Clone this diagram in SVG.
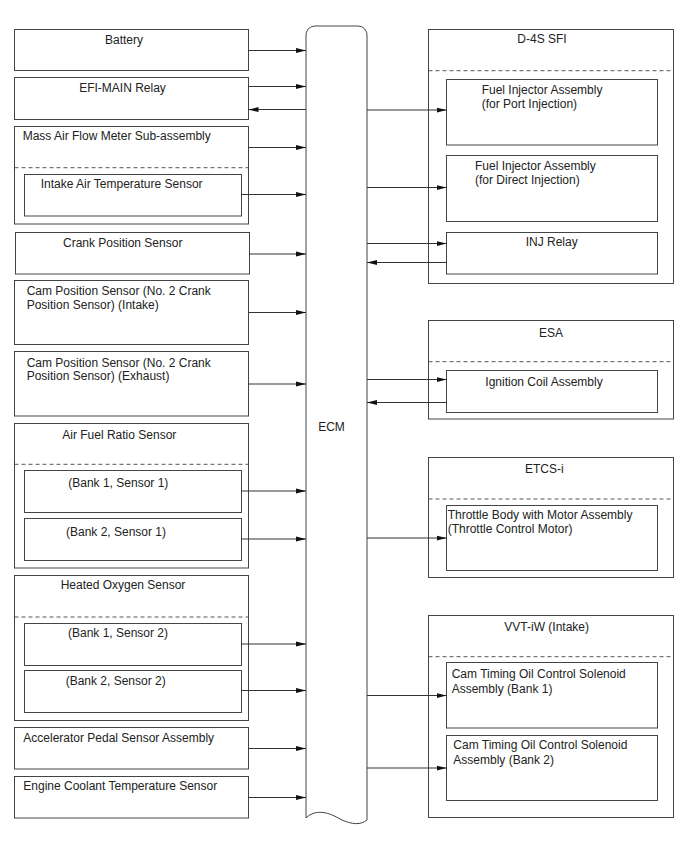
<svg xmlns="http://www.w3.org/2000/svg" width="688" height="852" viewBox="0 0 688 852">
<style>
.b{fill:#fff;stroke:#444;stroke-width:1}
.d{fill:none;stroke:#555;stroke-width:1;stroke-dasharray:4,3}
.t{font-family:"Liberation Sans",Arial,sans-serif;font-size:12px;fill:#222}
.m{text-anchor:middle}
.c{fill:none;stroke:#333;stroke-width:1;marker-end:url(#ah)}
</style>
<defs>
<marker id="ah" markerUnits="userSpaceOnUse" markerWidth="10" markerHeight="6" refX="10" refY="3" orient="auto">
<path d="M0,0.5 L10,3 L0,5.5 Z" fill="#111"/>
</marker>
</defs>
<rect width="688" height="852" fill="#fff"/>

<g id="ecm">
<path class="b" d="M306,36 A9,9 0 0 1 315,26 L358,26 A9,9 0 0 1 367,36 L367,820 C361,825 352,825 340,819 C330,813 316,808 306,818 Z"/>
<text class="t m" x="331.5" y="430.5">ECM</text>
</g>

<g id="battery">
<rect class="b" x="14.5" y="29.5" width="234" height="41"/>
<text class="t m" x="124" y="44.3">Battery</text>
</g>
<g id="efi-main">
<rect class="b" x="14.5" y="77.5" width="234" height="42"/>
<text class="t m" x="122.5" y="92">EFI-MAIN Relay</text>
</g>
<g id="maf">
<rect class="b" x="14.5" y="126.5" width="234" height="97.5"/>
<text class="t" x="22.7" y="140.3">Mass Air Flow Meter Sub-assembly</text>
<line class="d" x1="14.5" y1="167.7" x2="248.5" y2="167.7"/>
</g>
<g id="iat">
<rect class="b" x="24.5" y="174.5" width="217" height="41.5"/>
<text class="t" x="40.7" y="187.7">Intake Air Temperature Sensor</text>
</g>
<g id="crank">
<rect class="b" x="15.5" y="232.5" width="234" height="41.5"/>
<text class="t m" x="122.7" y="247.3">Crank Position Sensor</text>
</g>
<g id="cam-intake">
<rect class="b" x="14.5" y="280.5" width="234" height="64"/>
<text class="t" x="26.7" y="295">Cam Position Sensor (No. 2 Crank</text>
<text class="t" x="26.7" y="308.5">Position Sensor) (Intake)</text>
</g>
<g id="cam-exhaust">
<rect class="b" x="14.5" y="351.5" width="234" height="64.5"/>
<text class="t" x="26.7" y="366.7">Cam Position Sensor (No. 2 Crank</text>
<text class="t" x="26.7" y="380.2">Position Sensor) (Exhaust)</text>
</g>
<g id="afr">
<rect class="b" x="14.5" y="423.5" width="234" height="144.5"/>
<text class="t m" x="119.3" y="438.7">Air Fuel Ratio Sensor</text>
<line class="d" x1="14.5" y1="464.3" x2="248.5" y2="464.3"/>
</g>
<g id="afr-b1s1">
<rect class="b" x="24.5" y="470.5" width="217" height="42"/>
<text class="t m" x="118.3" y="486.7">(Bank 1, Sensor 1)</text>
</g>
<g id="afr-b2s1">
<rect class="b" x="24.5" y="518.5" width="217" height="42"/>
<text class="t m" x="116" y="535.7">(Bank 2, Sensor 1)</text>
</g>
<g id="ho2">
<rect class="b" x="14.5" y="575.5" width="234" height="145"/>
<text class="t m" x="123" y="589.3">Heated Oxygen Sensor</text>
<line class="d" x1="14.5" y1="617" x2="248.5" y2="617"/>
</g>
<g id="ho2-b1s2">
<rect class="b" x="24.5" y="623.5" width="217" height="42"/>
<text class="t m" x="118" y="637.3">(Bank 1, Sensor 2)</text>
</g>
<g id="ho2-b2s2">
<rect class="b" x="24.5" y="670.5" width="217" height="42"/>
<text class="t m" x="115.7" y="685">(Bank 2, Sensor 2)</text>
</g>
<g id="accel">
<rect class="b" x="14.5" y="727.5" width="234" height="41.5"/>
<text class="t" x="23.3" y="741.7">Accelerator Pedal Sensor Assembly</text>
</g>
<g id="ect">
<rect class="b" x="14.5" y="776.5" width="234" height="41.5"/>
<text class="t" x="23.3" y="790">Engine Coolant Temperature Sensor</text>
</g>

<g id="d4s">
<rect class="b" x="428.5" y="29.5" width="245" height="254"/>
<text class="t m" x="542" y="43">D-4S SFI</text>
<line class="d" x1="428.5" y1="70.7" x2="673.5" y2="70.7"/>
</g>
<g id="inj-port">
<rect class="b" x="446.5" y="79.5" width="211" height="65.5"/>
<text class="t" x="481.7" y="94">Fuel Injector Assembly</text>
<text class="t" x="481.7" y="107.5">(for Port Injection)</text>
</g>
<g id="inj-direct">
<rect class="b" x="446.5" y="155.5" width="211" height="66"/>
<text class="t" x="475" y="170">Fuel Injector Assembly</text>
<text class="t" x="475" y="183.5">(for Direct Injection)</text>
</g>
<g id="inj-relay">
<rect class="b" x="446.5" y="232.5" width="211" height="41.5"/>
<text class="t m" x="551.7" y="245.7">INJ Relay</text>
</g>
<g id="esa">
<rect class="b" x="428.5" y="320.5" width="245" height="98.5"/>
<text class="t m" x="551" y="336.7">ESA</text>
<line class="d" x1="428.5" y1="361.7" x2="673.5" y2="361.7"/>
</g>
<g id="ignition">
<rect class="b" x="446.5" y="370.5" width="211" height="42"/>
<text class="t m" x="544" y="385.7">Ignition Coil Assembly</text>
</g>
<g id="etcs">
<rect class="b" x="428.5" y="457.5" width="245" height="120"/>
<text class="t m" x="544.3" y="472.7">ETCS-i</text>
<line class="d" x1="428.5" y1="499" x2="673.5" y2="499"/>
</g>
<g id="throttle">
<rect class="b" x="446.5" y="505.5" width="211" height="65"/>
<text class="t" x="447.7" y="519">Throttle Body with Motor Assembly</text>
<text class="t" x="447.7" y="533.3">(Throttle Control Motor)</text>
</g>
<g id="vvt">
<rect class="b" x="428.5" y="615.5" width="245" height="202"/>
<text class="t m" x="546.7" y="630.7">VVT-iW (Intake)</text>
<line class="d" x1="428.5" y1="656.7" x2="673.5" y2="656.7"/>
</g>
<g id="ocv1">
<rect class="b" x="446.5" y="662.5" width="211" height="65.5"/>
<text class="t" x="451.7" y="678.3">Cam Timing Oil Control Solenoid</text>
<text class="t" x="451.7" y="693.3">Assembly (Bank 1)</text>
</g>
<g id="ocv2">
<rect class="b" x="446.5" y="735.5" width="211" height="65"/>
<text class="t" x="453.3" y="749.3">Cam Timing Oil Control Solenoid</text>
<text class="t" x="453.3" y="764.3">Assembly (Bank 2)</text>
</g>

<g id="connectors">
<line class="c" x1="248.5" y1="50.5" x2="306" y2="50.5"/>
<line class="c" x1="248.5" y1="86.5" x2="306" y2="86.5"/>
<line class="c" x1="306" y1="109.5" x2="248.5" y2="109.5"/>
<line class="c" x1="248.5" y1="147.5" x2="306" y2="147.5"/>
<line class="c" x1="241.5" y1="194.5" x2="306" y2="194.5"/>
<line class="c" x1="249.5" y1="254" x2="306" y2="254"/>
<line class="c" x1="248.5" y1="312.5" x2="306" y2="312.5"/>
<line class="c" x1="248.5" y1="384" x2="306" y2="384"/>
<line class="c" x1="241.5" y1="491" x2="306" y2="491"/>
<line class="c" x1="241.5" y1="539" x2="306" y2="539"/>
<line class="c" x1="241.5" y1="644" x2="306" y2="644"/>
<line class="c" x1="241.5" y1="690.5" x2="306" y2="690.5"/>
<line class="c" x1="248.5" y1="748.5" x2="306" y2="748.5"/>
<line class="c" x1="248.5" y1="797.5" x2="306" y2="797.5"/>
<line class="c" x1="367" y1="110" x2="446.5" y2="110"/>
<line class="c" x1="367" y1="187.5" x2="446.5" y2="187.5"/>
<line class="c" x1="367" y1="243.5" x2="446.5" y2="243.5"/>
<line class="c" x1="446.5" y1="262.5" x2="367" y2="262.5"/>
<line class="c" x1="367" y1="379.5" x2="446.5" y2="379.5"/>
<line class="c" x1="446.5" y1="402.5" x2="367" y2="402.5"/>
<line class="c" x1="367" y1="538" x2="446.5" y2="538"/>
<line class="c" x1="367" y1="695.5" x2="446.5" y2="695.5"/>
<line class="c" x1="367" y1="768" x2="446.5" y2="768"/>
</g>
</svg>
